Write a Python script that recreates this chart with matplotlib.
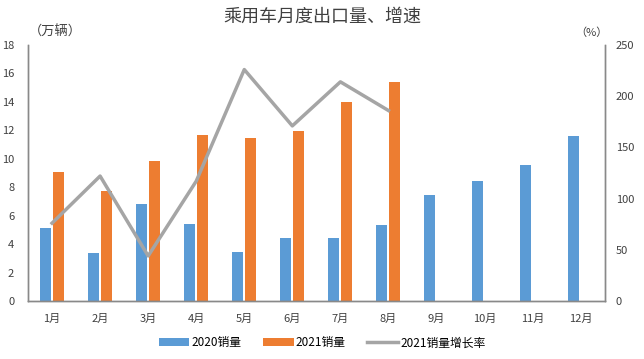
import matplotlib.pyplot as plt
import numpy as np

plt.rcParams['font.family'] = ['Noto Sans CJK SC', 'DejaVu Sans']

months = ['1月', '2月', '3月', '4月', '5月', '6月', '7月', '8月', '9月', '10月', '11月', '12月']
sales_2020 = [5.1, 3.4, 6.8, 5.4, 3.45, 4.4, 4.45, 5.35, 7.45, 8.45, 9.55, 11.6]
sales_2021 = [9.1, 7.7, 9.85, 11.7, 11.45, 11.95, 14.0, 15.4]
growth_2021 = [76, 122, 44, 117, 226, 171, 214, 186]

blue = '#5B9BD5'
orange = '#ED7D31'
grey = '#A5A5A5'
axis_col = '#898989'

fig = plt.figure(figsize=(6.44, 3.59), dpi=100)
ax = fig.add_axes([0.0435, 0.1616, 0.8955, 0.7131])
ax2 = ax.twinx()

x = np.arange(len(months))
w = 0.23
ax.bar(x - 0.145, sales_2020, w, color=blue, label='2020销量')
ax.bar(x[:len(sales_2021)] + 0.13, sales_2021, w, color=orange, label='2021销量')
ax2.plot(x[:len(growth_2021)], growth_2021, color=grey, lw=2.5, label='2021销量增长率')

ax.set_xlim(-0.5, len(months) - 0.5)
ax.set_ylim(0, 18)
ax.set_yticks(range(0, 19, 2))
ax2.set_ylim(0, 250)
ax2.set_yticks(range(0, 251, 50))
ax.set_xticks(x)
ax.set_xticklabels(months)

for a in (ax, ax2):
    a.tick_params(length=0, labelsize=8, colors='#404040')
    a.spines['top'].set_visible(False)
    for s in ('left', 'bottom', 'right'):
        a.spines[s].set_color(axis_col)
        a.spines[s].set_linewidth(1)
ax.tick_params(axis='x', pad=9)
ax.tick_params(axis='y', pad=10)
ax2.tick_params(axis='y', pad=8)
# line drawn over the bars
ax2.set_zorder(2)
ax2.patch.set_visible(False)

fig.text(0.5, 0.953, '乘用车月度出口量、增速', ha='center', va='center', fontsize=13, color='#404040')
fig.text(0.045, 0.91, '（万辆）', ha='left', va='center', fontsize=9.5, color='#404040')
fig.text(0.918, 0.91, '（%）', ha='center', va='center', fontsize=8, color='#404040')

h1, l1 = ax.get_legend_handles_labels()
h2, l2 = ax2.get_legend_handles_labels()
fig.legend(h1 + h2, l1 + l2, loc='center', bbox_to_anchor=(0.5, 0.045), ncol=3, frameon=False,
           fontsize=8.5, handlelength=2.6, handletextpad=0.2, columnspacing=1.8)

fig.savefig('out.png', dpi=100)
